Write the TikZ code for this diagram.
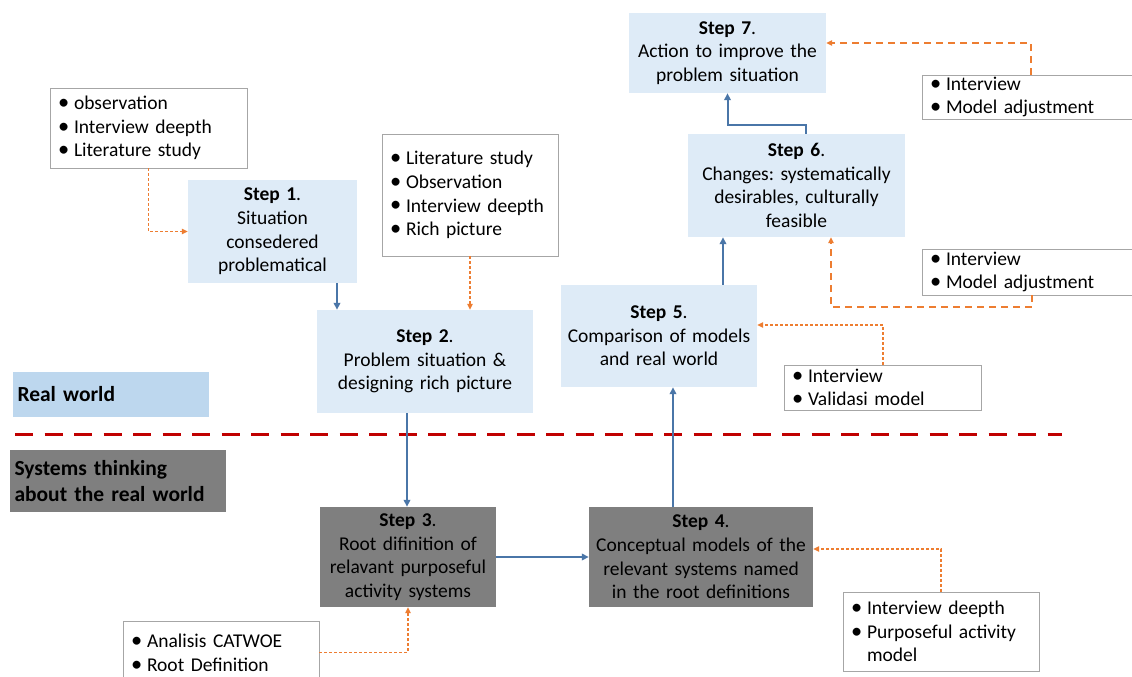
\documentclass[tikz,border=0pt]{standalone}
\usepackage{fontspec}
\setmainfont{Carlito}
\usetikzlibrary{arrows.meta}
\definecolor{stepblue}{HTML}{DEEBF7}
\definecolor{realblue}{HTML}{BDD7EE}
\definecolor{darkgrey}{HTML}{7F7F7F}
\definecolor{arrowblue}{HTML}{4A76A8}
\definecolor{dashorange}{HTML}{ED7D31}
\definecolor{dashred}{HTML}{C00000}
\definecolor{listborder}{HTML}{A6A6A6}
\newcommand{\bitem}[1]{\makebox[16pt][l]{\scalebox{1.15}{\textbullet}}#1}
\newcommand{\bcont}[1]{\hspace*{16pt}#1}
\frenchspacing
\begin{document}
\begin{tikzpicture}[x=1pt,y=-1pt,
  every node/.style={font=\fontsize{19.5}{23.6}\selectfont, inner sep=0pt},
  stepbox/.style={fill=stepblue, align=center, inner xsep=5pt},
  greybox/.style={fill=darkgrey, align=center, inner xsep=5pt},
  listbox/.style={draw=listborder, line width=0.8pt, fill=white, align=left, inner xsep=8pt},
  worldlabel/.style={align=left, inner xsep=4.5pt, font=\fontsize{21.5}{25.5}\selectfont\bfseries},
  flow/.style={draw=arrowblue, line width=2pt, -{Triangle[length=7pt,width=6.5pt]}},
  feed/.style={draw=dashorange, line width=1.1pt, dash pattern=on 3pt off 2pt, -{Triangle[length=6pt,width=5.5pt]}},
  feedlong/.style={feed, dash pattern=on 7pt off 5pt},
]
\useasboundingbox (0,0) rectangle (1132,677);
\clip (0,0) rectangle (1132,677);
\fill[white] (0,0) rectangle (1132,677);

% region labels
\node[worldlabel, fill=realblue, text width=187pt, minimum height=45pt] (rw) at (111,394.5) {Real world};
\node[worldlabel, fill=darkgrey, text width=207pt, minimum height=62pt] (st) at (118,481) {Systems thinking\\about the real world};
\draw[dashred, line width=3pt, dash pattern=on 18pt off 11.5pt] (15,434) -- (1062,434);

% steps
\node[stepbox, text width=159pt, minimum height=103pt] (s1) at (272.5,231.5) {{\bfseries Step 1}.\\Situation\\consedered\\problematical};
\node[stepbox, text width=206pt, minimum height=103pt] (s2) at (425,361.5) {{\bfseries Step 2}.\\Problem situation \&\\designing rich picture};
\node[greybox, text width=166pt, minimum height=100pt] (s3) at (408,557) {{\bfseries Step 3}.\\Root difinition of\\relavant purposeful\\activity systems};
\node[greybox, text width=214pt, minimum height=100pt] (s4) at (701,557) {{\bfseries Step 4}.\\Conceptual models of the\\relevant systems named\\in the root definitions};
\node[stepbox, text width=186pt, minimum height=102pt] (s5) at (659,336) {{\bfseries Step 5}.\\Comparison of models\\and real world};
\node[stepbox, text width=207pt, minimum height=103pt] (s6) at (796.5,185.5) {{\bfseries Step 6}.\\Changes: systematically\\desirables, culturally\\feasible};
\node[stepbox, text width=187pt, minimum height=80pt] (s7) at (727.5,53) {{\bfseries Step 7}.\\Action to improve the\\problem situation};

% lists
\node[listbox, text width=181pt, minimum height=80pt] (l1) at (148.5,128) {\bitem{observation}\\\bitem{Interview deepth}\\\bitem{Literature study}};
\node[listbox, text width=160pt, minimum height=122pt] (l2) at (470,195) {\bitem{Literature study}\\\bitem{Observation}\\\bitem{Interview deepth}\\\bitem{Rich picture}};
\node[listbox, text width=207pt, minimum height=44pt] (l7) at (1033.5,97) {\bitem{Interview}\\\bitem{Model adjustment}};
\node[listbox, text width=207pt, minimum height=46pt] (l6) at (1033.5,272) {\bitem{Interview}\\\bitem{Model adjustment}};
\node[listbox, text width=181pt, minimum height=45pt] (l5) at (882.5,387.5) {\bitem{Interview}\\\bitem{Validasi model}};
\node[listbox, text width=180pt, minimum height=79pt] (l4) at (941,631.5) {\bitem{Interview deepth}\\\bitem{Purposeful activity}\\\bcont{model}};
\node[listbox, text width=180pt, minimum height=63pt] (l3) at (221,652.5) {\bitem{Analisis CATWOE}\\\bitem{Root Definition}};

% main flow
\coordinate (c12) at (337,0);
\draw[flow] (s1.south -| c12) -- (s2.north -| c12);
\coordinate (c23) at (407,0);
\draw[flow] (s2.south -| c23) -- (s3.north -| c23);
\draw[flow] (s3.east) -- (s4.west);
\coordinate (c45) at (673,0);
\draw[flow] (s4.north -| c45) -- (s5.south -| c45);
\coordinate (c56) at (723,0);
\draw[flow] (s5.north -| c56) -- (s6.south -| c56);
\coordinate (c67) at (806,125);
\draw[flow] (s6.north -| c67) -- (c67) -| (s7.south);

% feedback / inputs
\draw[feed] (l1.south) |- (s1.west);
\draw[feed] (l2.south) -- (l2.south |- s2.north);
\coordinate (c5) at (883,325);
\draw[feed] (l5.north -| c5) -- (c5) -- (c5 -| s5.east);
\coordinate (c4) at (941,549);
\draw[feed] (l4.north -| c4) -- (c4) -- (c4 -| s4.east);
\draw[feed] (l3.east) -| (s3.south);
\coordinate (c6a) at (1032,307);
\coordinate (c6b) at (831,307);
\draw[feedlong] (l6.south -| c6a) -- (c6a) -- (c6b) -- (s6.south -| c6b);
\coordinate (c7) at (1031,43);
\draw[feedlong] (l7.north -| c7) -- (c7) -- (c7 -| s7.east);
\end{tikzpicture}
\end{document}
